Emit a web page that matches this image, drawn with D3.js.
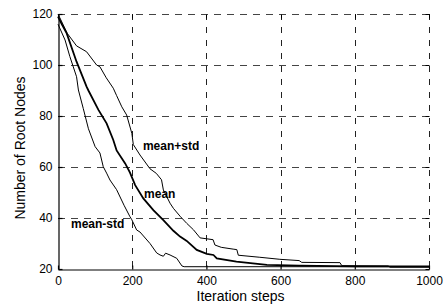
<!DOCTYPE html>
<html>
<head>
<meta charset="utf-8">
<script src="https://cdn.jsdelivr.net/npm/d3@7"></script>
<style>
  body { margin: 0; background: #fff; }
  svg { display: block; font-family: Arial, 'Liberation Sans', sans-serif; }
</style>
</head>
<body>
<svg id="chart" width="444" height="306"></svg>
<script>
// Root node count vs iteration steps (mean and +/- std band)
const meanPlus = [
  [0, 120], [5, 118.5], [25, 112.4], [50, 107.5], [77, 105.2], [104, 100],
  [113, 99.3], [130, 95], [149, 90.9], [158, 88], [172, 83.6], [185, 80.4],
  [199, 73.2], [203, 68.8], [221, 64.7], [248, 59.3], [265, 57.5], [279, 55],
  [284, 51], [302, 45.8], [311, 43.8], [329, 40.7], [347, 37.9], [365, 35.4],
  [383, 32.2], [418, 31.5], [423, 29.4], [440, 28.5], [472, 27.8], [482, 27.6],
  [486, 25.4], [544, 24.6], [598, 23.8], [650, 23.3], [657, 22.6], [760, 22.5],
  [765, 21.3], [890, 21.2], [895, 20.7], [1000, 20.7]
];
const meanVals = [
  [0, 119], [10, 116], [23.5, 112.4], [50, 101.3], [77, 91.5], [82, 90],
  [109, 82.4], [131, 77.1], [149, 70.6], [158, 66.5], [181, 61.4], [194, 57.8],
  [208, 52.9], [230, 47.7], [257, 43.1], [284, 39.2], [311, 35], [329, 32.7],
  [347, 31], [374, 27.5], [401, 25.9], [419, 25.5], [428, 24.2], [481, 22.9],
  [563, 21.6], [650, 21.3], [800, 21], [1000, 21]
];
const meanMinus = [
  [0, 116], [19, 109.8], [32, 103.3], [50, 95.4], [55, 90.2], [68, 83],
  [82, 75], [100, 68], [113, 65.5], [122, 60.1], [131, 57.6], [140, 54.9],
  [158, 51.1], [178, 45], [194, 40.5], [199, 39.3], [212, 35.3], [221, 34.5],
  [248, 30], [266, 26.3], [275, 25.5], [284, 25], [290, 26.2], [302, 25.5],
  [320, 24.2], [334, 21.2], [340, 20.9], [1000, 20.9]
];
const xTicks = [0, 200, 400, 600, 800, 1000];
const yTicks = [20, 40, 60, 80, 100, 120];
const labels = [
  { text: 'mean+std', at: [229, 66.7] },
  { text: 'mean', at: [232, 48] },
  { text: 'mean-std', at: [35, 36.1] }
];

const svg = d3.select('#chart');
const plotL = 58, plotR = 429, plotT = 14, plotB = 269;

const x = d3.scaleLinear().domain([0, 1000]).range([plotL, plotR]);
const y = d3.scaleLinear().domain([20, 120]).range([plotB, plotT]);

svg.append('rect').attr('width', 444).attr('height', 306).attr('fill', '#fff');

// dashed grid
svg.selectAll('.gx').data(xTicks.slice(1)).enter().append('line')
  .attr('x1', d => Math.round(x(d)) + 0.5).attr('x2', d => Math.round(x(d)) + 0.5)
  .attr('y1', plotT).attr('y2', plotB)
  .attr('stroke', '#222').attr('stroke-width', 1)
  .attr('stroke-dasharray', '6,7');
svg.selectAll('.gy').data(yTicks.slice(1)).enter().append('line')
  .attr('x1', plotL).attr('x2', plotR + 1)
  .attr('y1', d => Math.round(y(d)) + 0.5).attr('y2', d => Math.round(y(d)) + 0.5)
  .attr('stroke', '#444').attr('stroke-width', 1)
  .attr('stroke-dasharray', '7,6');

// axes (matlab style, ticks inside)
const xAxis = d3.axisBottom(x).tickValues(xTicks).tickFormat(d3.format('d'))
  .tickSizeInner(-4).tickSizeOuter(0).tickPadding(7);
const yAxis = d3.axisLeft(y).tickValues(yTicks).tickFormat(d3.format('d'))
  .tickSizeInner(-4).tickSizeOuter(0).tickPadding(6);

const gx = svg.append('g').attr('transform', `translate(0,${plotB + 0.5})`).call(xAxis);
const gy = svg.append('g').attr('transform', `translate(${plotL + 0.5},0)`).call(yAxis);
[gx, gy].forEach(g => {
  g.selectAll('path, line').attr('stroke', '#000').attr('stroke-width', 1.2);
  g.selectAll('text').attr('font-size', 12).attr('fill', '#000')
    .attr('font-family', "Arial, 'Liberation Sans', sans-serif");
});

// top/right ticks
svg.selectAll('.tt').data(xTicks).enter().append('line')
  .attr('x1', d => Math.round(x(d)) + 0.5).attr('x2', d => Math.round(x(d)) + 0.5)
  .attr('y1', plotT + 0.5).attr('y2', plotT + 4.5)
  .attr('stroke', '#000');
svg.selectAll('.rt').data(yTicks).enter().append('line')
  .attr('x1', plotR - 3.5).attr('x2', plotR + 0.5)
  .attr('y1', d => Math.round(y(d)) + 0.5).attr('y2', d => Math.round(y(d)) + 0.5)
  .attr('stroke', '#000');

const line = d3.line().x(d => x(d[0])).y(d => y(d[1]));

svg.append('path').datum(meanPlus).attr('d', line)
  .attr('fill', 'none').attr('stroke', '#000').attr('stroke-width', 1);
svg.append('path').datum(meanMinus).attr('d', line)
  .attr('fill', 'none').attr('stroke', '#000').attr('stroke-width', 1);
svg.append('path').datum(meanVals).attr('d', line)
  .attr('fill', 'none').attr('stroke', '#000').attr('stroke-width', 1.8);

// curve labels
svg.selectAll('.lbl').data(labels).enter().append('text')
  .attr('x', d => x(d.at[0]))
  .attr('y', d => y(d.at[1]))
  .attr('font-size', 12).attr('font-weight', 'bold').attr('fill', '#000')
  .text(d => d.text);

// axis titles
svg.append('text')
  .attr('x', (plotL + plotR) / 2 - 3).attr('y', 301)
  .attr('text-anchor', 'middle').attr('font-size', 14).attr('fill', '#000')
  .text('Iteration steps');
svg.append('text')
  .attr('transform', 'translate(25,148) rotate(-90)')
  .attr('text-anchor', 'middle').attr('font-size', 14).attr('fill', '#000')
  .text('Number of Root Nodes');
</script>
</body>
</html>
